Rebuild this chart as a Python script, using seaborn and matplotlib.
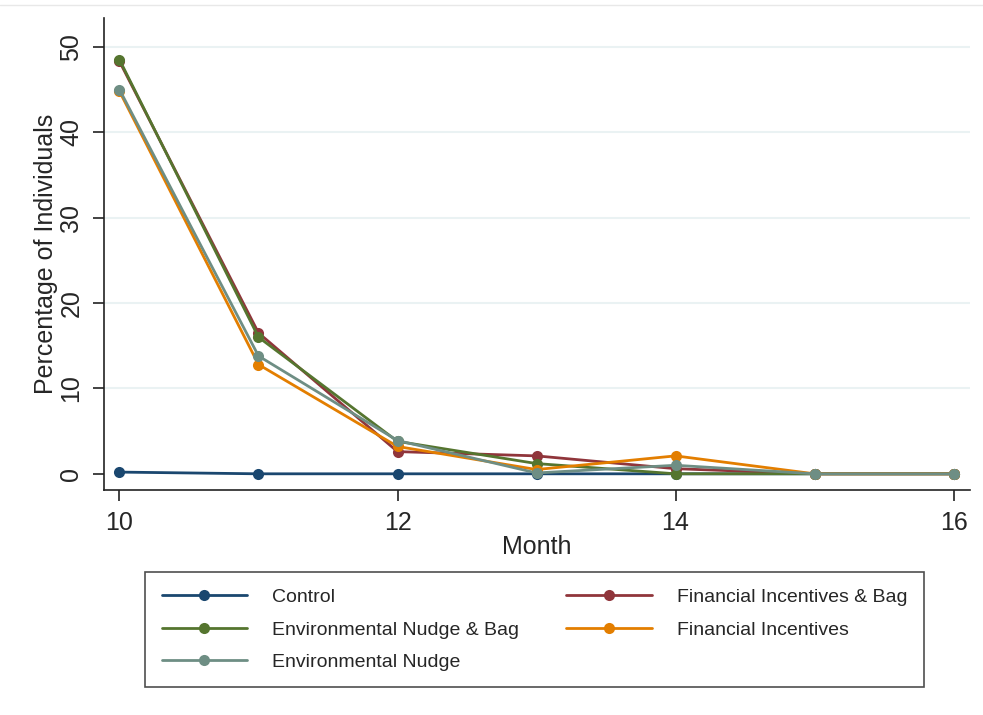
import numpy as np
import pandas as pd
import matplotlib
matplotlib.use("Agg")
import matplotlib.pyplot as plt
import seaborn as sns
from matplotlib.lines import Line2D

# valori
months = [10, 11, 12, 13, 14, 15, 16]
control = [0.2, 0.0, 0.0, 0.0, 0.0, 0.0, 0.0]
fin_bag = [48.3, 16.5, 2.6, 2.1, 0.6, 0.0, 0.0]
env_bag = [48.5, 16.0, 3.8, 1.2, 0.0, 0.0, 0.0]
fin_inc = [44.8, 12.8, 3.2, 0.5, 2.1, 0.0, 0.0]
env_nudge = [45.0, 13.8, 3.9, 0.1, 1.0, 0.0, 0.0]

groups = ["Control", "Financial Incentives & Bag", "Environmental Nudge & Bag",
          "Financial Incentives", "Environmental Nudge"]
series = [control, fin_bag, env_bag, fin_inc, env_nudge]
colors = ["#1a476f", "#90353b", "#55752f", "#e37e00", "#6e8e84"]

df = pd.DataFrame({
    "Month": months * len(groups),
    "Pct": sum(series, []),
    "Group": np.repeat(groups, len(months)),
})

sns.set_style("white")
plt.rcParams['font.family'] = ['Liberation Sans', 'DejaVu Sans']

fig = plt.figure(figsize=(9.83, 7.15), dpi=100)
ax = fig.add_axes([0.106, 0.315, 0.881, 0.66])

# linii de grila orizontale
for yv in [10, 20, 30, 40, 50]:
    ax.axhline(yv, color="#eaf2f3", lw=1.5, zorder=0)

sns.lineplot(data=df, x="Month", y="Pct", hue="Group", hue_order=groups,
             palette=colors, marker="o", markersize=8, markeredgewidth=0,
             linewidth=2, ax=ax, legend=False)

ax.set_xlim(9.89, 16.12)
ax.set_ylim(-1.87, 53.4)
ax.set_xticks([10, 12, 14, 16])
ax.set_yticks([0, 10, 20, 30, 40, 50])
ax.tick_params(axis="both", direction="out", length=8, width=1.2, color="#222222",
               labelsize=18, left=True, bottom=True, pad=7)
for lab in ax.get_yticklabels():
    lab.set_rotation(90)
    lab.set_va("center")
ax.set_xlabel("Month", fontsize=18, labelpad=0)
ax.set_ylabel("Percentage of Individuals", fontsize=18, labelpad=1)
sns.despine(ax=ax)
for s in ["left", "bottom"]:
    ax.spines[s].set_color("#222222")
    ax.spines[s].set_linewidth(1.2)

# legenda: ordinea pe coloane ca sa apara pe randuri ca in Stata
handles = [Line2D([], [], color=c, lw=2, marker="o", markersize=8, markeredgewidth=0)
           for c in colors]
order = [0, 2, 4, 1, 3]
fig.legend([handles[i] for i in order], [groups[i] for i in order],
           loc="upper left", bbox_to_anchor=(0.1475, 1 - 572 / 715),
           ncol=2, fontsize=14, frameon=True, fancybox=False,
           edgecolor="#222222", handlelength=4.4, handletextpad=1.3,
           borderpad=0.85, labelspacing=0.76, columnspacing=2.4,
           borderaxespad=0)
fig.legends[0].get_frame().set_linewidth(1.2)

# linie fina sus (margine captura)
fig.add_artist(Line2D([0, 1], [0.993, 0.993], color="#e8e8e8", lw=1))

fig.savefig("out.png", dpi=100)
